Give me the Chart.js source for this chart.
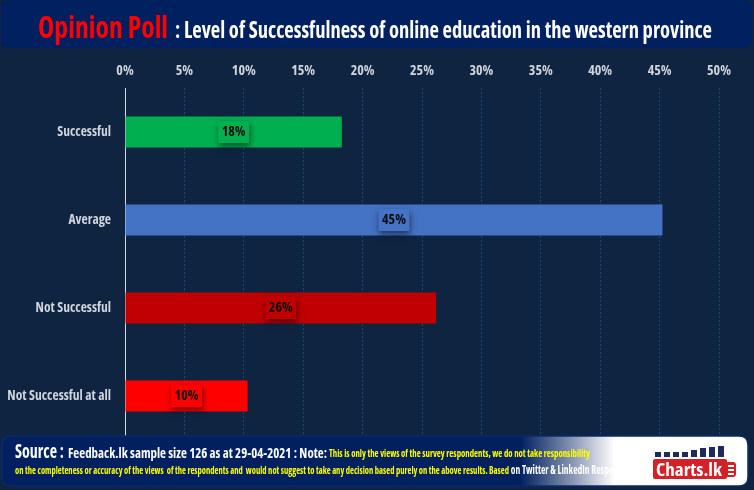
<!DOCTYPE html>
<html>
<head>
<meta charset="utf-8">
<script src="https://cdn.jsdelivr.net/npm/chart.js@4.4.0/dist/chart.umd.min.js"></script>
<style>
html,body{margin:0;padding:0;background:#0f2441;}
#wrap{position:relative;width:754px;height:490px;}
canvas{display:block;}
</style>
</head>
<body>
<div id="wrap"><canvas id="c" width="754" height="490"></canvas></div>
<script>
// ---- data ----
const categories = ["Successful", "Average", "Not Successful", "Not Successful at all"];
const values = [18.25, 45.24, 26.19, 10.32];
const valueLabels = ["18%", "45%", "26%", "10%"];
const barColors = ["#00b050", "#4472c4", "#c00000", "#ff0000"];
const axisMin = 0, axisMax = 50, axisStep = 5;

const titleRed = "Opinion Poll";
const titleWhite = ": Level of Successfulness of online education in the western province";
const srcLabel = "Source :";
const srcText = "Feedback.lk sample size 126 as at 29-04-2021 : Note:";
const noteLine1 = "This is only the views of the survey respondents, we do not take responsibility";
const noteLine2a = "on the completeness or accuracy of the views  of the respondents and  would not suggest to take any decision based purely on the above results. Based";
const noteLine2b = " on Twitter & LinkedIn Respondents";

const FONT = "'Open Sans', 'Roboto', sans-serif";
const W = 'bold condensed';

function fitText(ctx, text, x, y, w, size, color) {
  ctx.save();
  ctx.font = W + ' ' + size + 'px ' + FONT;
  const m = ctx.measureText(text).width;
  ctx.translate(x, y);
  ctx.scale(w / m, 1);
  ctx.fillStyle = color;
  ctx.textBaseline = 'alphabetic';
  ctx.textAlign = 'left';
  ctx.fillText(text, 0, 0);
  ctx.restore();
}
function rrect(ctx, x, y, w, h, r) {
  ctx.beginPath();
  ctx.moveTo(x + r, y);
  ctx.lineTo(x + w - r, y); ctx.quadraticCurveTo(x + w, y, x + w, y + r);
  ctx.lineTo(x + w, y + h - r); ctx.quadraticCurveTo(x + w, y + h, x + w - r, y + h);
  ctx.lineTo(x + r, y + h); ctx.quadraticCurveTo(x, y + h, x, y + h - r);
  ctx.lineTo(x, y + r); ctx.quadraticCurveTo(x, y, x + r, y);
  ctx.closePath();
}

const bgPlugin = {
  id: 'bg',
  beforeDraw(chart) {
    const ctx = chart.ctx;
    ctx.save();
    ctx.fillStyle = '#0f2441';
    ctx.fillRect(0, 0, chart.width, chart.height);
    ctx.restore();
  }
};

const labelPlugin = {
  id: 'vlabels',
  afterDatasetsDraw(chart) {
    const ctx = chart.ctx;
    const meta = chart.getDatasetMeta(0);
    meta.data.forEach((bar, i) => {
      const cx = (bar.x + bar.base) / 2;
      const cy = bar.y;
      const w = 31, h = 22;
      ctx.save();
      ctx.shadowColor = 'rgba(0,0,0,0.55)';
      ctx.shadowBlur = 6;
      ctx.shadowOffsetX = 1;
      ctx.shadowOffsetY = 3;
      ctx.fillStyle = barColors[i];
      ctx.fillRect(cx - w / 2, cy - h / 2, w, h);
      ctx.restore();
      ctx.save();
      ctx.font = W + ' 14px ' + FONT;
      ctx.fillStyle = '#0a0a0a';
      ctx.textAlign = 'center';
      ctx.textBaseline = 'middle';
      ctx.fillText(valueLabels[i], cx, cy);
      ctx.restore();
    });
  }
};

const framePlugin = {
  id: 'frame',
  afterDraw(chart) {
    const ctx = chart.ctx;
    // header
    ctx.save();
    rrect(ctx, 1, 0, 751, 48, 8);
    ctx.fillStyle = '#002060';
    ctx.fill();
    ctx.restore();
    fitText(ctx, titleRed, 38, 38, 130, 31, '#ff0000');
    fitText(ctx, titleWhite, 175, 38, 537, 23, '#ffffff');

    // footer
    ctx.save();
    rrect(ctx, 2, 436, 746, 50, 9);
    const g = ctx.createLinearGradient(0, 0, 754, 0);
    g.addColorStop(0, '#002060');
    g.addColorStop(0.69, '#002060');
    g.addColorStop(0.76, '#8a97b5');
    g.addColorStop(0.815, '#ffffff');
    g.addColorStop(1, '#ffffff');
    ctx.fillStyle = g;
    ctx.fill();
    ctx.lineWidth = 1.5;
    ctx.strokeStyle = '#0b2a6b';
    ctx.stroke();
    ctx.restore();

    fitText(ctx, srcLabel, 15, 458, 49, 19, '#ffffff');
    fitText(ctx, srcText, 68, 458, 259, 15, '#ffffff');
    fitText(ctx, noteLine1, 329, 457, 261, 11, '#ffff00');
    fitText(ctx, noteLine2a, 15, 474, 494, 11, '#ffff00');
    ctx.save();
    ctx.beginPath();
    ctx.rect(0, 440, 622, 45);
    ctx.clip();
    fitText(ctx, noteLine2b, 509, 474, 130, 12, '#ffffff');
    ctx.restore();

    // logo bars
    ctx.save();
    ctx.fillStyle = '#1f2a5c';
    const bh = [5, 5, 5, 5, 7, 9, 10, 11];
    const bx = [655, 664, 673, 682, 691, 700, 709, 718];
    for (let i = 0; i < bh.length; i++) {
      ctx.fillRect(bx[i], 457 - bh[i], 6, bh[i]);
    }
    // red box
    rrect(ctx, 653, 459, 74, 20, 2);
    ctx.fillStyle = '#d42027';
    ctx.fill();
    // thumb
    rrect(ctx, 725, 462, 11, 15, 3);
    ctx.fill();
    ctx.fillStyle = '#ffffff';
    ctx.fillRect(728, 465, 6, 2);
    ctx.fillRect(728, 469, 6, 2);
    ctx.fillRect(728, 473, 6, 2);
    ctx.restore();
    fitText(ctx, 'Charts.lk', 656, 476, 66, 18, '#ffffff');
  }
};

new Chart(document.getElementById('c'), {
  type: 'bar',
  data: {
    labels: categories,
    datasets: [{
      data: values,
      backgroundColor: barColors,
      borderWidth: 0,
      barPercentage: 0.35,
      categoryPercentage: 1.0
    }]
  },
  options: {
    indexAxis: 'y',
    responsive: false,
    animation: false,
    devicePixelRatio: 1,
    layout: { padding: { left: 0, right: 35, top: 0, bottom: 50 } },
    plugins: { legend: { display: false }, tooltip: { enabled: false } },
    scales: {
      x: {
        position: 'top',
        min: axisMin, max: axisMax,
        afterFit(s) { s.height = 88; },
        ticks: {
          stepSize: axisStep,
          callback: v => v + '%',
          color: '#d0d4dc',
          font: { family: FONT, size: 14, weight: W },
          padding: 9,
          maxRotation: 0
        },
        grid: { color: '#1b4a7a', lineWidth: 1, drawTicks: false },
        border: { display: false, dash: [2, 2] }
      },
      y: {
        afterFit(s) { s.width = 125; },
        ticks: {
          color: '#d0d4dc',
          font: { family: FONT, size: 13.5, weight: W },
          padding: 14
        },
        grid: { display: false, drawTicks: false },
        border: { display: true, color: '#d6dae2', width: 1 }
      }
    }
  },
  plugins: [bgPlugin, labelPlugin, framePlugin]
});
</script>
</body>
</html>
